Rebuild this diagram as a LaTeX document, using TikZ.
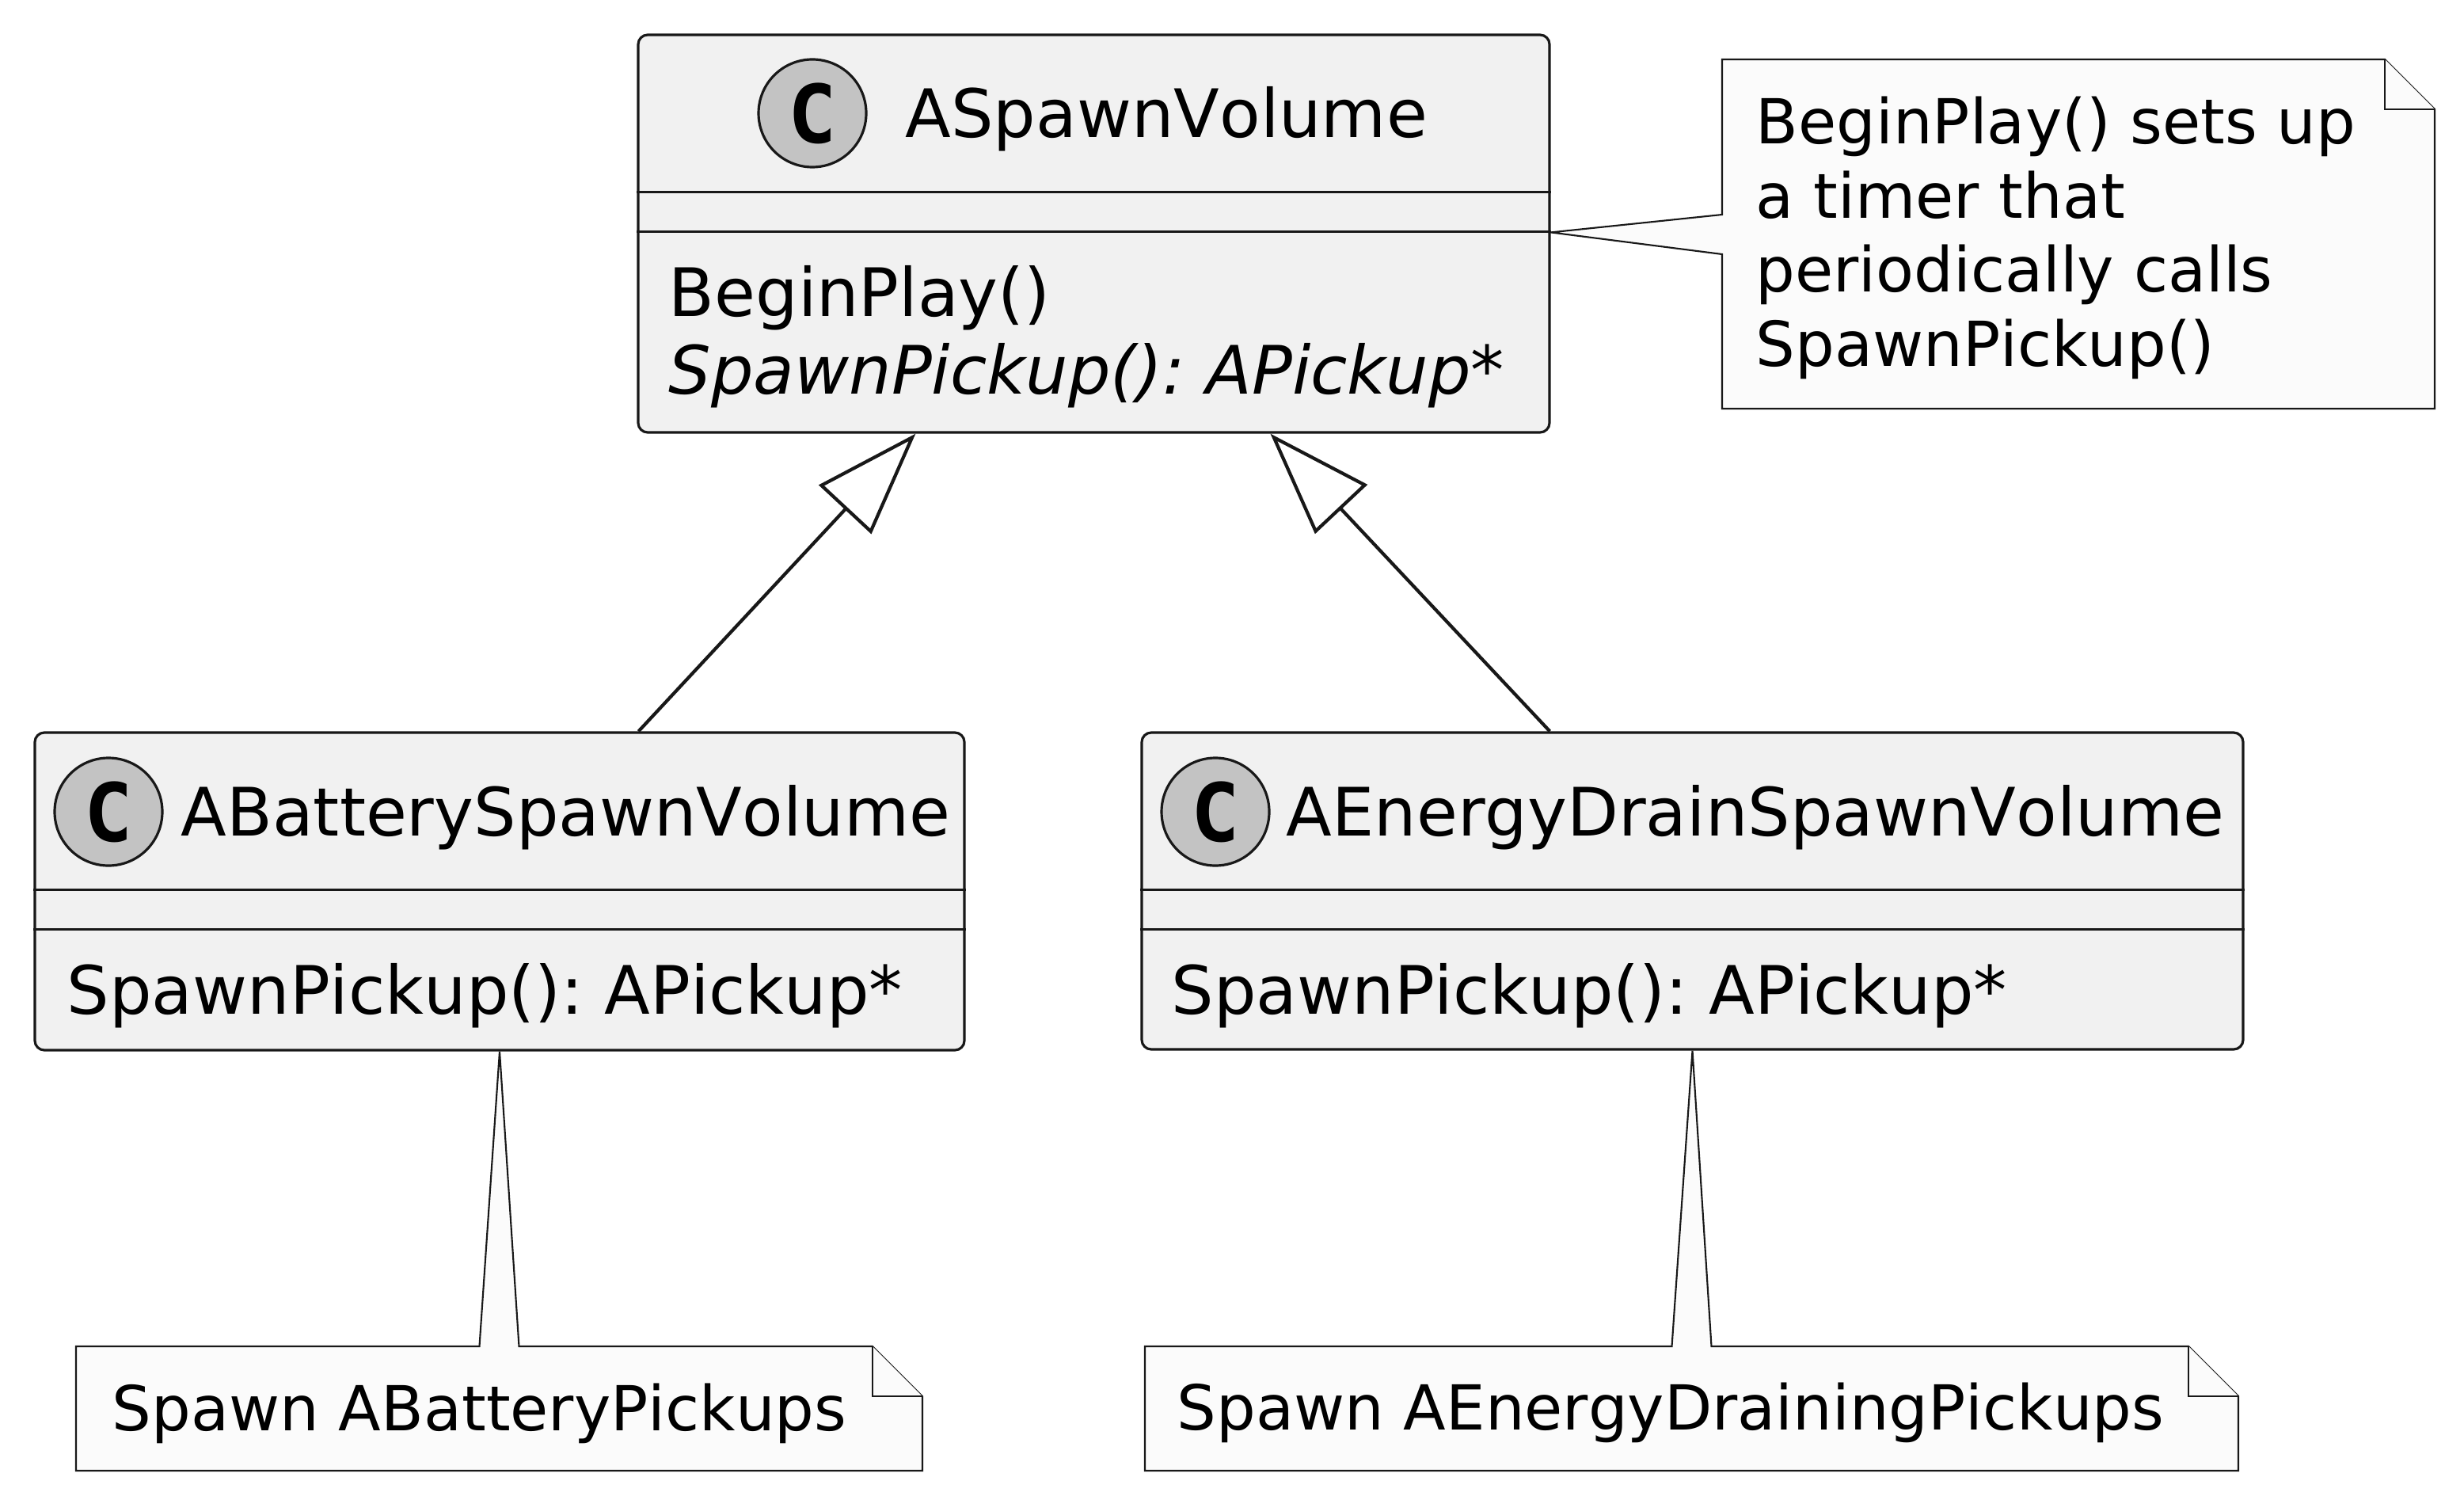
\documentclass[tikz,border=0pt]{standalone}
\usepackage{fontspec}
\setmainfont{DejaVu Sans}[Kerning=Off]
\newfontfamily\spotfamily{DejaVu Sans Mono}
\usetikzlibrary{arrows.meta,calc}
\definecolor{lineblack}{HTML}{181818}
\definecolor{classfill}{HTML}{F1F1F1}
\definecolor{spotfill}{HTML}{C3C3C3}
\definecolor{notefill}{HTML}{FBFBFB}
\newcommand\clsfont{\fontsize{24}{28}\selectfont}
\newcommand\ntfont{\fontsize{22.3}{26.6}\selectfont}
\frenchspacing
\tikzset{
  classbox/.style={draw=lineblack, fill=classfill, line width=0.9pt, rounded corners=0.12cm, inner sep=0pt},
  sepline/.style={draw=lineblack, line width=0.9pt},
  spot/.style={circle, draw=lineblack, fill=spotfill, line width=0.9pt, minimum size=1.36cm, inner sep=0pt,
    font=\spotfamily\bfseries\fontsize{29}{30}\selectfont},
  clsname/.style={anchor=base west, inner sep=0pt, font=\clsfont},
  member/.style={anchor=base west, inner sep=0pt, font=\clsfont},
  abstract/.style={member, font=\clsfont\itshape},
  notebox/.style={inner sep=0pt, outer sep=0pt},
  noteline/.style={draw=lineblack, fill=notefill, line width=0.6pt, line join=miter},
  notetext/.style={anchor=base west, inner sep=0pt, font=\ntfont},
  extends/.style={draw=lineblack, line width=1.2pt, -{Triangle[open, fill=white, length=1.31cm, width=0.9cm]}}
}
\begin{document}
\frenchspacing
\begin{tikzpicture}[x=1cm,y=-1cm]
  \useasboundingbox (0,0) rectangle (31.12,18.94);
  % classes
  \node[classbox, minimum width=11.51cm, minimum height=5.02cm] (spawnVol) at (13.815,2.95) {};
  \node[classbox, minimum width=11.74cm, minimum height=4.01cm] (battVol) at (6.31,11.255) {};
  \node[classbox, minimum width=13.91cm, minimum height=4.0cm] (drainVol) at (21.375,11.25) {};
  \foreach \cls in {spawnVol,battVol,drainVol}{
    \draw[sepline] ($(\cls.north west)+(0,2.0)$) -- ($(\cls.north east)+(0,2.0)$);
    \draw[sepline] ($(\cls.north west)+(0,2.5)$) -- ($(\cls.north east)+(0,2.5)$);
  }
  \node[spot] (spawnSpot) at (10.26,1.43) {C};
  \node[spot] (battSpot) at (1.37,10.25) {C};
  \node[spot] (drainSpot) at (15.35,10.25) {C};
  \node[clsname] (spawnName) at (11.43,1.74) {ASpawnVolume};
  \node[clsname] (battName) at (2.28,10.55) {ABatterySpawnVolume};
  \node[clsname] (drainName) at (16.24,10.55) {AEnergyDrainSpawnVolume};
  \node[member] (spawnBegin) at (8.44,4.00) {BeginPlay()};
  \node[abstract] (spawnPick) at (8.44,4.98) {SpawnPickup(): APickup*};
  \node[member] (battPick) at (0.84,12.80) {SpawnPickup(): APickup*};
  \node[member] (drainPick) at (14.79,12.80) {SpawnPickup(): APickup*};

  % inheritance
  \coordinate (battTop) at ($(battVol.north west)+(7.64,0)$);
  \coordinate (drainTop) at ($(drainVol.north west)+(5.17,0)$);
  \coordinate (spawnLeft) at ($(spawnVol.south west)+(3.52,0)$);
  \coordinate (spawnRight) at ($(spawnVol.south west)+(8.0,0)$);
  \draw[extends] (battTop) -- (spawnLeft);
  \draw[extends] (drainTop) -- (spawnRight);

  % notes
  \node[notebox, minimum width=9.0cm, minimum height=4.41cm] (timerNote) at (26.25,2.955) {};
  \node[notebox, minimum width=10.69cm, minimum height=1.57cm] (battNote) at (6.305,17.785) {};
  \node[notebox, minimum width=13.81cm, minimum height=1.57cm] (drainNote) at (21.365,17.785) {};
  \coordinate (timerTip) at ($(spawnVol.north east)+(0,2.51)$);
  \draw[noteline] (timerNote.north west) -- ($(timerNote.north east)+(-0.63,0)$)
    -- ($(timerNote.north east)+(0,0.63)$) -- (timerNote.south east) -- (timerNote.south west)
    -- ($(timerNote.north west)+(0,2.46)$) -- (timerTip) -- ($(timerNote.north west)+(0,1.96)$) -- cycle;
  \draw[noteline] (battNote.north west) -- ($(battNote.north)+(-0.25,0)$) -- (battVol.south)
    -- ($(battNote.north)+(0.25,0)$) -- ($(battNote.north east)+(-0.63,0)$)
    -- ($(battNote.north east)+(0,0.63)$) -- (battNote.south east) -- (battNote.south west) -- cycle;
  \draw[noteline] (drainNote.north west) -- ($(drainNote.north)+(-0.25,0)$) -- (drainVol.south)
    -- ($(drainNote.north)+(0.25,0)$) -- ($(drainNote.north east)+(-0.63,0)$)
    -- ($(drainNote.north east)+(0,0.63)$) -- (drainNote.south east) -- (drainNote.south west) -- cycle;
  \foreach \nt in {timerNote,battNote,drainNote}{
    \draw[noteline] ($(\nt.north east)+(-0.63,0)$) -- ($(\nt.north east)+(-0.63,0.63)$) -- ($(\nt.north east)+(0,0.63)$);
  }
  \foreach \txt [count=\i] in {{BeginPlay() sets up},{a timer that},{periodically calls},{SpawnPickup()}}{
    \node[notetext] (timerLine\i) at (22.17,{1.82+0.935*(\i-1)}) {\txt};
  }
  \node[notetext] (battText) at (1.41,18.06) {Spawn ABatteryPickups};
  \node[notetext] (drainText) at (14.86,18.05) {Spawn AEnergyDrainingPickups};
\end{tikzpicture}
\end{document}
